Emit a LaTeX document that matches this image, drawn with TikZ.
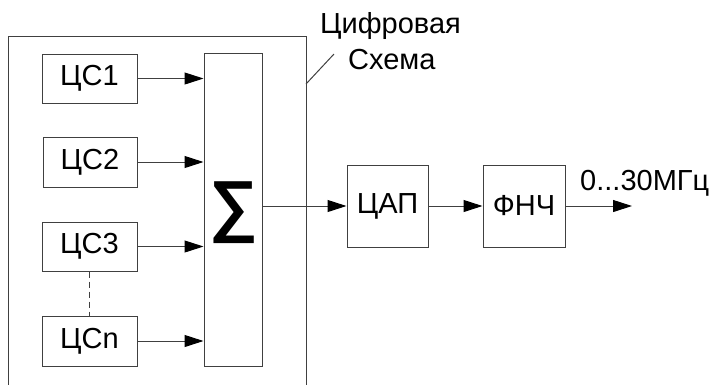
\documentclass[tikz,border=0pt]{standalone}
\usepackage{fontspec}
\setmainfont{Liberation Sans}
\usetikzlibrary{arrows.meta}
\tikzset{
  blk/.style={draw=black!75, line width=1pt, inner sep=0pt, align=center, font=\fontsize{29}{33}\selectfont},
  sig/.style={draw=black!75, line width=1pt, -{Triangle[length=19pt,width=12pt,color=black]}}
}
\begin{document}
\begin{tikzpicture}[x=1pt,y=-1pt]
\useasboundingbox (0,0) rectangle (709,384);
\draw[black!75, line width=1pt] (8,392) -- (8,36) -- (306,36) -- (306,392);
\node[blk, minimum width=95pt, minimum height=49pt] (c1) at (89.5,78.5) {ЦС1};
\node[blk, minimum width=94pt, minimum height=50pt] (c2) at (90,162) {ЦС2};
\node[blk, minimum width=95pt, minimum height=49pt] (c3) at (89.5,246.5) {ЦС3};
\node[blk, minimum width=95pt, minimum height=50pt] (cn) at (89.5,341) {ЦСn};
\node[blk, minimum width=58pt, minimum height=313pt] (sum) at (233,209.5) {};
\node[font=\fontsize{68}{72}\selectfont\bfseries, inner sep=0pt] (sg) at (234,213) {∑};
\node[blk, minimum width=81pt, minimum height=82pt] (dac) at (387.5,206) {ЦАП};
\node[blk, minimum width=82pt, minimum height=82pt] (lpf) at (524,206) {ФНЧ};
\node[anchor=base west, inner sep=0pt, font=\fontsize{29}{33}\selectfont] (fr) at (580,190) {0...30МГц};
\node[anchor=base west, inner sep=0pt, font=\fontsize{29}{33}\selectfont] (t1) at (320,33) {Цифровая};
\node[anchor=base west, inner sep=0pt, font=\fontsize{29}{33}\selectfont] (t2) at (348,69) {Схема};
\coordinate (out) at (632,206);
\coordinate (lb) at (306,84);
\coordinate (le) at (334,54);
\draw[sig] (c1.east) -- (c1.east -| sum.west);
\draw[sig] (c2.east) -- (c2.east -| sum.west);
\draw[sig] (c3.east) -- (c3.east -| sum.west);
\draw[sig] (cn.east) -- (cn.east -| sum.west);
\draw[black!75, line width=1pt, dash pattern=on 6pt off 4pt] (c3.south) -- (cn.north);
\draw[sig] (sum.east |- dac.west) -- (dac.west);
\draw[sig] (dac.east) -- (lpf.west);
\draw[sig] (lpf.east) -- (out);
\draw[black!75, line width=1pt] (lb) -- (le);
\end{tikzpicture}
\end{document}
